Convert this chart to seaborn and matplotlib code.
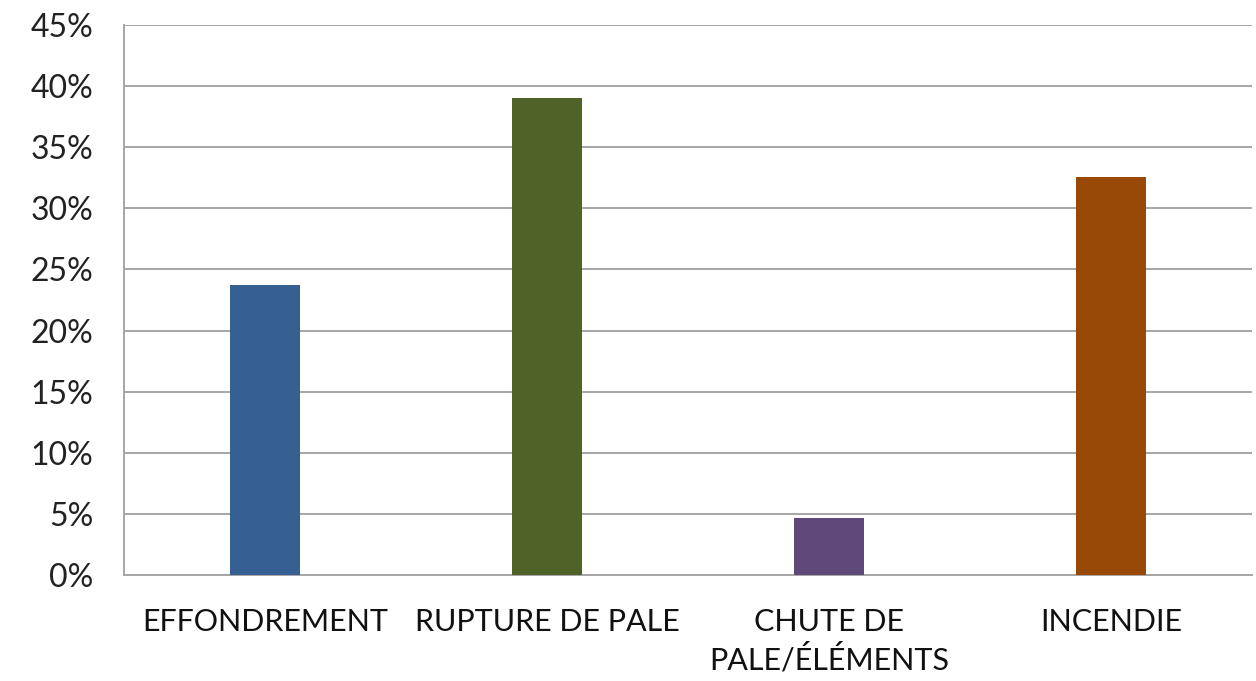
import matplotlib
matplotlib.use("Agg")
import matplotlib.pyplot as plt
import seaborn as sns
import pandas as pd
from matplotlib.ticker import FuncFormatter, MultipleLocator

# Share of incident types (percent)
categories = ["EFFONDREMENT", "RUPTURE DE PALE", "CHUTE DE\nPALE/ÉLÉMENTS", "INCENDIE"]
shares = [23.7, 39.0, 4.7, 32.6]
bar_colors = ["#366092", "#4F6228", "#5F497A", "#984807"]

df = pd.DataFrame({"categorie": categories, "part": shares})

sns.set_theme(style="white")
plt.rcParams["font.family"] = ["Lato", "DejaVu Sans"]

fig = plt.figure(figsize=(12.56, 6.81), dpi=100)
ax = fig.add_axes([0.0987, 0.1557, 0.8981, 0.8076])

sns.barplot(data=df, x="categorie", y="part", hue="categorie",
            palette=bar_colors, width=0.25, legend=False, ax=ax,
            saturation=1, edgecolor="none", zorder=3)

ax.set_ylim(0, 45)
ax.yaxis.set_major_locator(MultipleLocator(5))
ax.yaxis.set_major_formatter(FuncFormatter(lambda v, _: f"{v:.0f}%"))
ax.set_xlim(-0.5, len(categories) - 0.5)

ax.grid(axis="y", color="#A6A6A6", linewidth=1.4, zorder=0)
ax.set_axisbelow(True)
for side in ["top", "right"]:
    ax.spines[side].set_visible(False)
for side in ["left", "bottom"]:
    ax.spines[side].set_color("#A6A6A6")
    ax.spines[side].set_linewidth(1.4)

ax.set_xlabel("")
ax.set_ylabel("")
ax.tick_params(axis="y", length=0, pad=22, labelsize=23, labelcolor="#222222")
ax.tick_params(axis="x", length=0, pad=24, labelsize=22, labelcolor="#111111")
for lbl in ax.get_xticklabels():
    lbl.set_linespacing(1.3)

fig.savefig("out.png", dpi=100, facecolor="white")
